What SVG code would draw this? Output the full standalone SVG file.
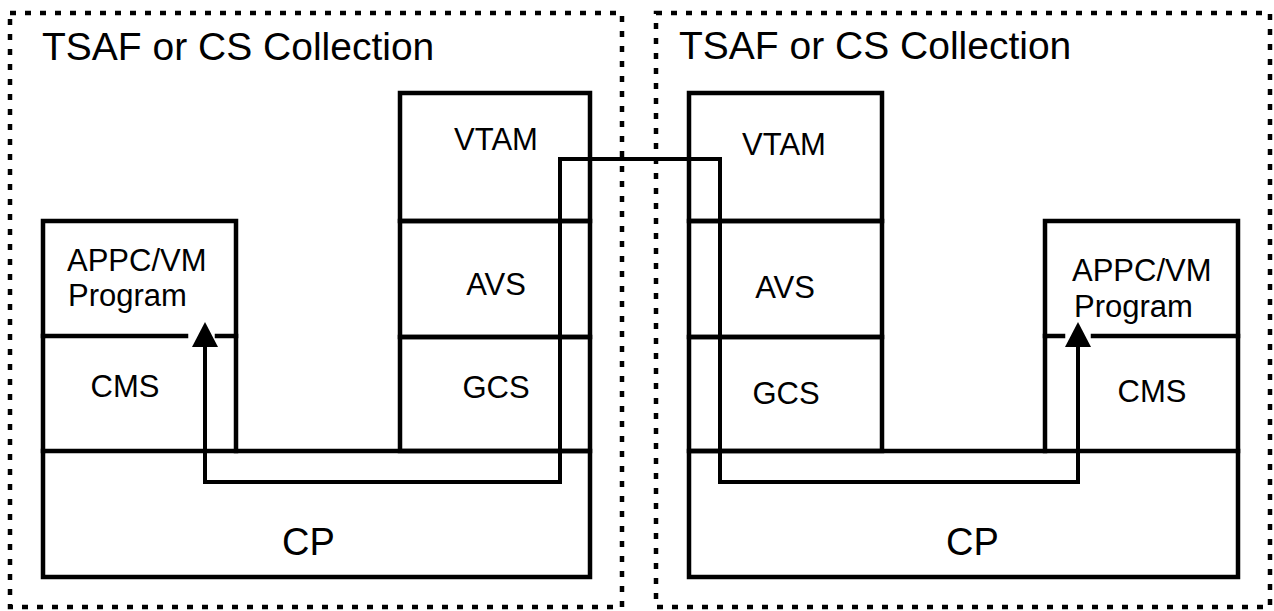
<svg xmlns="http://www.w3.org/2000/svg" width="1274" height="611" viewBox="0 0 1274 611">
<style>
  .frame { fill: none; stroke: #000; stroke-width: 4.5; stroke-dasharray: 6 9; }
  .box { fill: none; stroke: #000; stroke-width: 4.5; stroke-linecap: square; }
  .conn { fill: none; stroke: #000; stroke-width: 4; stroke-linejoin: miter; }
  .title { font-family: "Liberation Sans", Arial, sans-serif; font-size: 39px; fill: #000; }
  .lbl { font-family: "Liberation Sans", Arial, sans-serif; font-size: 31px; fill: #000; }
  .mid { text-anchor: middle; }
  .big { font-size: 38px; }
</style>
<defs>
  <marker id="arrow" viewBox="0 0 25 26" refX="0" refY="13" markerWidth="25" markerHeight="26" markerUnits="userSpaceOnUse" orient="auto-start-reverse">
    <path d="M0,0 L25,13 L0,26 z" fill="#000"/>
  </marker>
</defs>
<rect width="1274" height="611" fill="#fff"/>

<g id="collection-left">
  <rect class="frame" x="10" y="13" width="612" height="594"/>
  <text class="title" x="42" y="60">TSAF or CS Collection</text>
</g>
<g id="collection-right">
  <rect class="frame" x="656" y="13" width="614" height="594"/>
  <text class="title" x="679" y="59">TSAF or CS Collection</text>
</g>

<!-- Left side nodes -->
<g id="left-appc">
  <path class="box" d="M43,336 V221 H236 V336"/>
  <text class="lbl" x="67" y="271">APPC/VM</text>
  <text class="lbl" x="68" y="306">Program</text>
</g>
<g id="left-cms">
  <path class="box" d="M43,336 H186 M217,336 H236 M43,336 V451 M236,336 V451"/>
  <text class="lbl mid" x="125" y="397">CMS</text>
</g>
<g id="left-vtam">
  <rect class="box" x="400" y="93" width="190" height="128"/>
  <text class="lbl mid" x="496" y="150">VTAM</text>
</g>
<g id="left-avs">
  <rect class="box" x="400" y="221" width="190" height="116"/>
  <text class="lbl mid" x="496" y="295">AVS</text>
</g>
<g id="left-gcs">
  <rect class="box" x="400" y="337" width="190" height="114"/>
  <text class="lbl mid" x="496" y="398">GCS</text>
</g>
<g id="left-cp">
  <rect class="box" x="43" y="451" width="547" height="126"/>
  <text class="lbl big" x="282" y="555">CP</text>
</g>

<!-- Right side nodes -->
<g id="right-vtam">
  <rect class="box" x="689" y="93" width="193" height="128"/>
  <text class="lbl mid" x="784" y="155">VTAM</text>
</g>
<g id="right-avs">
  <rect class="box" x="689" y="221" width="193" height="116"/>
  <text class="lbl mid" x="785" y="298">AVS</text>
</g>
<g id="right-gcs">
  <rect class="box" x="689" y="337" width="193" height="114"/>
  <text class="lbl mid" x="786" y="404">GCS</text>
</g>
<g id="right-appc">
  <path class="box" d="M1045,336 V221 H1238 V336"/>
  <text class="lbl" x="1072" y="281">APPC/VM</text>
  <text class="lbl" x="1074" y="317">Program</text>
</g>
<g id="right-cms">
  <path class="box" d="M1045,336 H1063 M1093,336 H1238 M1045,336 V451 M1238,336 V451"/>
  <text class="lbl mid" x="1152" y="402">CMS</text>
</g>
<g id="right-cp">
  <rect class="box" x="689" y="451" width="549" height="126"/>
  <text class="lbl big" x="946" y="555">CP</text>
</g>

<g id="connectors">
  <path class="conn" d="M205,347 V482 H560 V159 H720 V482 H1078 V347" marker-start="url(#arrow)" marker-end="url(#arrow)"/>
</g>
</svg>
